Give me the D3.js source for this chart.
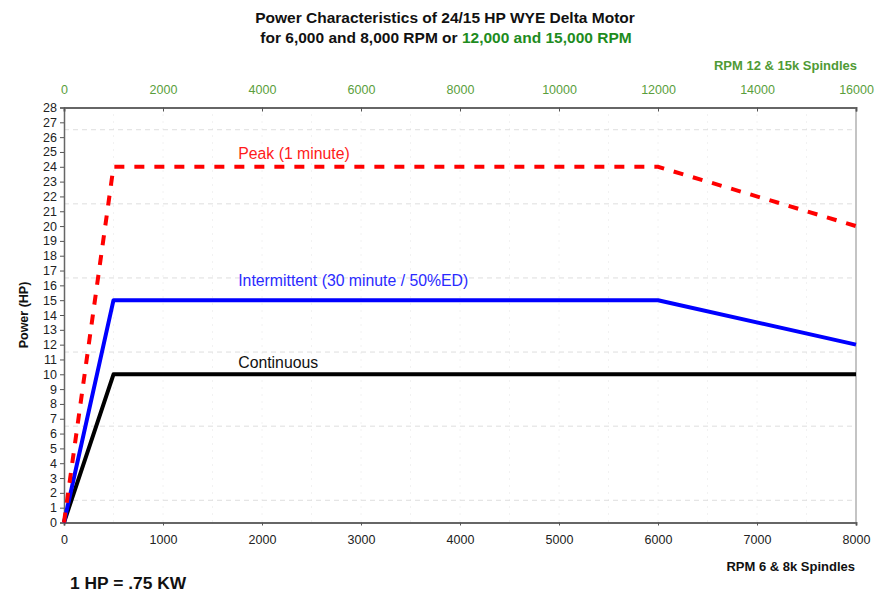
<!DOCTYPE html>
<html>
<head>
<meta charset="utf-8">
<script src="https://cdn.jsdelivr.net/npm/d3@7"></script>
<style>
  body { margin: 0; background: #fff; }
  svg { font-family: Arial, "Liberation Sans", sans-serif; }
</style>
</head>
<body>
<div id="main"></div>
<script>
// data: rpm (6 & 8k spindles) vs power in HP
var continuous = [[0, 0], [500, 10], [8000, 10]];
var intermittent = [[0, 0], [500, 15], [6000, 15], [8000, 12]];
var peak = [[0, 0], [500, 24], [6000, 24], [8000, 20]];

var bottomTicks = [0, 1000, 2000, 3000, 4000, 5000, 6000, 7000, 8000];
var topTicks = [0, 2000, 4000, 6000, 8000, 10000, 12000, 14000, 16000];
var yTicks = d3.range(0, 29);
var hGrid = [1.5, 6.5, 11.5, 16.5, 21.5, 26.5];
var vGrid = d3.range(500, 8000, 500);

var seriesLabels = [
  { text: "Peak (1 minute)", x: 1760, y: 24.55, color: "#ff1a1a" },
  { text: "Intermittent (30 minute / 50%ED)", x: 1760, y: 15.95, color: "#2a2aff" },
  { text: "Continuous", x: 1760, y: 10.45, color: "#111" }
];

var W = 875, H = 594;
var svg = d3.select('#main').append('svg').attr('width', W).attr('height', H);

var x = d3.scaleLinear().domain([0, 8000]).range([64, 856]);
var x2 = d3.scaleLinear().domain([0, 16000]).range([64, 856]);
var y = d3.scaleLinear().domain([0, 28]).range([522.5, 107.5]);

// grid
svg.append('g').selectAll('line').data(vGrid).enter().append('line')
  .attr('x1', function(d) { return x(d); }).attr('x2', function(d) { return x(d); })
  .attr('y1', y(28)).attr('y2', y(0))
  .attr('stroke', '#e4e4e4').attr('stroke-dasharray', '1,6');
svg.append('g').selectAll('line').data(hGrid).enter().append('line')
  .attr('x1', x(0)).attr('x2', x(8000))
  .attr('y1', function(d) { return y(d); }).attr('y2', function(d) { return y(d); })
  .attr('stroke', '#dedede').attr('stroke-dasharray', '5,4');

// right border
svg.append('line').attr('x1', x(8000)).attr('x2', x(8000)).attr('y1', y(28)).attr('y2', y(0))
  .attr('stroke', '#b0b0b0').attr('stroke-width', 1.5);

// axes
var yAxis = svg.append('g').attr('transform', 'translate(' + x(0) + ',0)')
  .call(d3.axisLeft(y).tickValues(yTicks).tickSize(4).tickPadding(3));
var xAxis = svg.append('g').attr('transform', 'translate(0,' + y(0) + ')')
  .call(d3.axisBottom(x).tickValues(bottomTicks).tickSize(3).tickPadding(10).tickFormat(d3.format('d')));
var xTop = svg.append('g').attr('transform', 'translate(0,' + y(28) + ')')
  .call(d3.axisTop(x2).tickValues(topTicks).tickSize(-4).tickPadding(14).tickFormat(d3.format('d')));

[yAxis, xAxis, xTop].forEach(function(a) {
  a.select('.domain').attr('stroke', '#666').attr('stroke-width', 2);
  a.selectAll('.tick line').attr('stroke', '#555');
  a.selectAll('.tick text').attr('font-size', 12.5).attr('font-family', 'Arial, "Liberation Sans", sans-serif');
});
yAxis.select('.domain').attr('stroke-width', 1.5);
yAxis.selectAll('.tick text').attr('fill', '#222');
xAxis.selectAll('.tick text').attr('fill', '#222');
xTop.selectAll('.tick text').attr('fill', '#5a9e3c');

// lines
var line = d3.line().x(function(d) { return x(d[0]); }).y(function(d) { return y(d[1]); });
svg.append('path').datum(continuous).attr('d', line)
  .attr('fill', 'none').attr('stroke', '#000').attr('stroke-width', 4).attr('stroke-linejoin', 'round');
svg.append('path').datum(intermittent).attr('d', line)
  .attr('fill', 'none').attr('stroke', '#0000ff').attr('stroke-width', 4).attr('stroke-linejoin', 'round');
svg.append('path').datum(peak).attr('d', line)
  .attr('fill', 'none').attr('stroke', '#ff0000').attr('stroke-width', 4)
  .attr('stroke-dasharray', '10,10');

// series labels
svg.append('g').selectAll('text').data(seriesLabels).enter().append('text')
  .attr('x', function(d) { return x(d.x); })
  .attr('y', function(d) { return y(d.y); })
  .attr('fill', function(d) { return d.color; })
  .attr('font-size', 15.8)
  .text(function(d) { return d.text; });

// titles
var title = svg.append('text').attr('x', 445).attr('y', 23).attr('text-anchor', 'middle')
  .attr('font-size', 15.5).attr('font-weight', 'bold').attr('fill', '#111');
title.text('Power Characteristics of 24/15 HP WYE Delta Motor');
var sub = svg.append('text').attr('x', 446).attr('y', 43).attr('text-anchor', 'middle')
  .attr('font-size', 15.5).attr('font-weight', 'bold').attr('fill', '#111');
sub.append('tspan').text('for 6,000 and 8,000 RPM or ');
sub.append('tspan').attr('fill', '#1e8c1e').text('12,000 and 15,000 RPM');

svg.append('text').attr('x', 857).attr('y', 70).attr('text-anchor', 'end')
  .attr('font-size', 13).attr('font-weight', 'bold').attr('fill', '#4f9a35')
  .text('RPM 12 & 15k Spindles');
svg.append('text').attr('x', 855).attr('y', 571).attr('text-anchor', 'end')
  .attr('font-size', 13).attr('font-weight', 'bold').attr('fill', '#111')
  .text('RPM 6 & 8k Spindles');
svg.append('text').attr('transform', 'translate(28,' + y(14) + ') rotate(-90)')
  .attr('text-anchor', 'middle').attr('font-size', 12.5).attr('font-weight', 'bold').attr('fill', '#111')
  .text('Power (HP)');
svg.append('text').attr('x', 70).attr('y', 589)
  .attr('font-size', 17.4).attr('font-weight', 'bold').attr('fill', '#111')
  .text('1 HP = .75 KW');
</script>
</body>
</html>
